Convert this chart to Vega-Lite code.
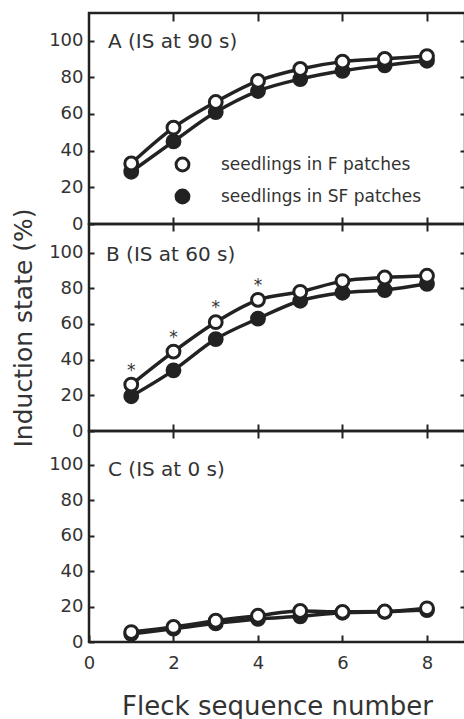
{
  "$schema": "https://vega.github.io/schema/vega-lite/v6.json",
  "background": "white",
  "padding": {"left": 10, "top": 10, "right": 0, "bottom": 0},
  "spacing": 0,
  "bounds": "flush",
  "config": {
    "font": "DejaVu Sans",
    "view": {"stroke": "#222", "strokeWidth": 2.5},
    "axis": {"grid": false, "domain": false, "labelFont": "DejaVu Sans", "labelFontSize": 18, "labelColor": "#333", "tickColor": "#222", "tickWidth": 2, "titleFont": "DejaVu Sans", "titleFontSize": 25, "titleFontWeight": "normal", "titleColor": "#333"},
    "title": {"font": "DejaVu Sans", "fontSize": 20, "fontWeight": "normal", "color": "#333", "anchor": "start", "frame": "group"}
  },
  "resolve": {"legend": {"fill": "independent"}},
  "datasets": {
    "induction": [
      {"panel": "A", "fleck": 1, "series": "seedlings in SF patches", "value": 28.5, "sig": ""},
      {"panel": "A", "fleck": 2, "series": "seedlings in SF patches", "value": 45, "sig": ""},
      {"panel": "A", "fleck": 3, "series": "seedlings in SF patches", "value": 61, "sig": ""},
      {"panel": "A", "fleck": 4, "series": "seedlings in SF patches", "value": 72.5, "sig": ""},
      {"panel": "A", "fleck": 5, "series": "seedlings in SF patches", "value": 79, "sig": ""},
      {"panel": "A", "fleck": 6, "series": "seedlings in SF patches", "value": 83.5, "sig": ""},
      {"panel": "A", "fleck": 7, "series": "seedlings in SF patches", "value": 86.5, "sig": ""},
      {"panel": "A", "fleck": 8, "series": "seedlings in SF patches", "value": 89, "sig": ""},
      {"panel": "A", "fleck": 1, "series": "seedlings in F patches", "value": 33, "sig": ""},
      {"panel": "A", "fleck": 2, "series": "seedlings in F patches", "value": 52.5, "sig": ""},
      {"panel": "A", "fleck": 3, "series": "seedlings in F patches", "value": 66.5, "sig": ""},
      {"panel": "A", "fleck": 4, "series": "seedlings in F patches", "value": 78, "sig": ""},
      {"panel": "A", "fleck": 5, "series": "seedlings in F patches", "value": 84.5, "sig": ""},
      {"panel": "A", "fleck": 6, "series": "seedlings in F patches", "value": 88.5, "sig": ""},
      {"panel": "A", "fleck": 7, "series": "seedlings in F patches", "value": 90, "sig": ""},
      {"panel": "A", "fleck": 8, "series": "seedlings in F patches", "value": 91.5, "sig": ""},
      {"panel": "B", "fleck": 1, "series": "seedlings in SF patches", "value": 19.5, "sig": ""},
      {"panel": "B", "fleck": 2, "series": "seedlings in SF patches", "value": 34, "sig": ""},
      {"panel": "B", "fleck": 3, "series": "seedlings in SF patches", "value": 51.5, "sig": ""},
      {"panel": "B", "fleck": 4, "series": "seedlings in SF patches", "value": 63, "sig": ""},
      {"panel": "B", "fleck": 5, "series": "seedlings in SF patches", "value": 73, "sig": ""},
      {"panel": "B", "fleck": 6, "series": "seedlings in SF patches", "value": 77.5, "sig": ""},
      {"panel": "B", "fleck": 7, "series": "seedlings in SF patches", "value": 79, "sig": ""},
      {"panel": "B", "fleck": 8, "series": "seedlings in SF patches", "value": 82.5, "sig": ""},
      {"panel": "B", "fleck": 1, "series": "seedlings in F patches", "value": 26, "sig": "*"},
      {"panel": "B", "fleck": 2, "series": "seedlings in F patches", "value": 44.5, "sig": "*"},
      {"panel": "B", "fleck": 3, "series": "seedlings in F patches", "value": 61, "sig": "*"},
      {"panel": "B", "fleck": 4, "series": "seedlings in F patches", "value": 73.5, "sig": "*"},
      {"panel": "B", "fleck": 5, "series": "seedlings in F patches", "value": 78, "sig": ""},
      {"panel": "B", "fleck": 6, "series": "seedlings in F patches", "value": 84, "sig": ""},
      {"panel": "B", "fleck": 7, "series": "seedlings in F patches", "value": 86, "sig": ""},
      {"panel": "B", "fleck": 8, "series": "seedlings in F patches", "value": 87, "sig": ""},
      {"panel": "C", "fleck": 1, "series": "seedlings in SF patches", "value": 4.5, "sig": ""},
      {"panel": "C", "fleck": 2, "series": "seedlings in SF patches", "value": 7.5, "sig": ""},
      {"panel": "C", "fleck": 3, "series": "seedlings in SF patches", "value": 10.5, "sig": ""},
      {"panel": "C", "fleck": 4, "series": "seedlings in SF patches", "value": 13, "sig": ""},
      {"panel": "C", "fleck": 5, "series": "seedlings in SF patches", "value": 14.5, "sig": ""},
      {"panel": "C", "fleck": 6, "series": "seedlings in SF patches", "value": 16.5, "sig": ""},
      {"panel": "C", "fleck": 7, "series": "seedlings in SF patches", "value": 17, "sig": ""},
      {"panel": "C", "fleck": 8, "series": "seedlings in SF patches", "value": 18, "sig": ""},
      {"panel": "C", "fleck": 1, "series": "seedlings in F patches", "value": 5.6, "sig": ""},
      {"panel": "C", "fleck": 2, "series": "seedlings in F patches", "value": 8.5, "sig": ""},
      {"panel": "C", "fleck": 3, "series": "seedlings in F patches", "value": 12, "sig": ""},
      {"panel": "C", "fleck": 4, "series": "seedlings in F patches", "value": 14.8, "sig": ""},
      {"panel": "C", "fleck": 5, "series": "seedlings in F patches", "value": 17.5, "sig": ""},
      {"panel": "C", "fleck": 6, "series": "seedlings in F patches", "value": 17, "sig": ""},
      {"panel": "C", "fleck": 7, "series": "seedlings in F patches", "value": 17.2, "sig": ""},
      {"panel": "C", "fleck": 8, "series": "seedlings in F patches", "value": 19, "sig": ""}
    ]
  },
  "vconcat": [
    {
      "width": 376, "height": 211,
      "data": {"name": "induction"},
      "transform": [{"filter": "datum.panel == 'A'"}],
      "title": {"text": "A (IS at 90 s)", "orient": "top", "offset": -56, "dx": 19, "baseline": "alphabetic"},
      "layer": [
        {
          "mark": {"type": "line", "interpolate": "monotone", "strokeWidth": 3.5, "color": "#222"},
          "encoding": {
            "x": {"field": "fleck", "type": "quantitative", "scale": {"domain": [0, 8.9], "nice": false, "zero": false}, "axis": {"orient": "bottom", "values": [2, 4, 6, 8], "labels": false, "tickSize": -7, "title": null}},
            "y": {"field": "value", "type": "quantitative", "scale": {"domain": [0, 115], "nice": false}, "axis": {"orient": "left", "values": [0, 20, 40, 60, 80, 100], "tickSize": -5, "labelPadding": 11, "title": null}},
            "detail": {"field": "series"}
          }
        },
        {
          "mark": {"type": "point", "shape": "circle", "filled": true, "size": 165, "stroke": "#222", "strokeWidth": 3, "opacity": 1},
          "encoding": {
            "x": {"field": "fleck", "type": "quantitative", "axis": {"orient": "top", "values": [2, 4, 6, 8], "labels": false, "tickSize": -8, "title": null}},
            "y": {"field": "value", "type": "quantitative", "axis": {"orient": "right", "values": [20, 40, 60, 80, 100], "labels": false, "tickSize": -5, "title": null}},
            "fill": {"field": "series", "type": "nominal", "scale": {"domain": ["seedlings in F patches", "seedlings in SF patches"], "range": ["white", "#222"]},
              "legend": {"orient": "none", "legendX": 85, "legendY": 143, "title": null, "padding": 0, "symbolType": "circle", "symbolSize": 165, "symbolStrokeColor": "#222", "symbolStrokeWidth": 3, "symbolOpacity": 1, "labelFont": "DejaVu Sans", "labelFontSize": 17, "labelColor": "#333", "labelOffset": 30, "labelLimit": 0, "rowPadding": 7}}
          }
        }
      ]
    },
    {
      "width": 376, "height": 207,
      "data": {"name": "induction"},
      "transform": [{"filter": "datum.panel == 'B'"}],
      "title": {"text": "B (IS at 60 s)", "orient": "top", "offset": -73, "dx": 17, "baseline": "alphabetic"},
      "layer": [
        {
          "mark": {"type": "line", "interpolate": "monotone", "strokeWidth": 3.5, "color": "#222"},
          "encoding": {
            "x": {"field": "fleck", "type": "quantitative", "scale": {"domain": [0, 8.9], "nice": false, "zero": false}, "axis": {"orient": "bottom", "values": [2, 4, 6, 8], "labels": false, "tickSize": -7, "title": null}},
            "y": {"field": "value", "type": "quantitative", "scale": {"domain": [0, 116], "nice": false}, "axis": {"orient": "left", "values": [0, 20, 40, 60, 80, 100], "tickSize": -5, "labelPadding": 11, "title": "Induction state (%)", "titlePadding": 12}},
            "detail": {"field": "series"}
          }
        },
        {
          "mark": {"type": "point", "shape": "circle", "filled": true, "size": 165, "stroke": "#222", "strokeWidth": 3, "opacity": 1},
          "encoding": {
            "x": {"field": "fleck", "type": "quantitative", "axis": {"orient": "top", "values": [2, 4, 6, 8], "labels": false, "tickSize": -7, "title": null}},
            "y": {"field": "value", "type": "quantitative", "axis": {"orient": "right", "values": [20, 40, 60, 80, 100], "labels": false, "tickSize": -5, "title": null}},
            "fill": {"field": "series", "type": "nominal", "scale": {"domain": ["seedlings in F patches", "seedlings in SF patches"], "range": ["white", "#222"]}, "legend": null}
          }
        },
        {
          "transform": [{"filter": "datum.sig == '*'"}],
          "mark": {"type": "text", "font": "DejaVu Sans", "fontSize": 17, "fill": "#333", "dy": -14, "baseline": "middle"},
          "encoding": {
            "x": {"field": "fleck", "type": "quantitative", "axis": null},
            "y": {"field": "value", "type": "quantitative", "axis": null},
            "text": {"field": "sig"}
          }
        }
      ]
    },
    {
      "width": 376, "height": 211,
      "data": {"name": "induction"},
      "transform": [{"filter": "datum.panel == 'C'"}],
      "title": {"text": "C (IS at 0 s)", "orient": "top", "offset": -66, "dx": 19, "baseline": "alphabetic"},
      "layer": [
        {
          "mark": {"type": "line", "interpolate": "monotone", "strokeWidth": 3.5, "color": "#222"},
          "encoding": {
            "x": {"field": "fleck", "type": "quantitative", "scale": {"domain": [0, 8.9], "nice": false, "zero": false}, "axis": {"orient": "bottom", "values": [0, 2, 4, 6, 8], "tickSize": -7, "labelPadding": 19, "title": "Fleck sequence number", "titleFontSize": 26, "titlePadding": 21, "labelFlush": false}},
            "y": {"field": "value", "type": "quantitative", "scale": {"domain": [0, 119], "nice": false}, "axis": {"orient": "left", "values": [0, 20, 40, 60, 80, 100], "tickSize": -5, "labelPadding": 11, "title": null}},
            "detail": {"field": "series"}
          }
        },
        {
          "mark": {"type": "point", "shape": "circle", "filled": true, "size": 165, "stroke": "#222", "strokeWidth": 3, "opacity": 1},
          "encoding": {
            "x": {"field": "fleck", "type": "quantitative", "axis": {"orient": "top", "values": [2, 4, 6, 8], "labels": false, "tickSize": -7, "title": null}},
            "y": {"field": "value", "type": "quantitative", "axis": {"orient": "right", "values": [20, 40, 60, 80, 100], "labels": false, "tickSize": -5, "title": null}},
            "fill": {"field": "series", "type": "nominal", "scale": {"domain": ["seedlings in F patches", "seedlings in SF patches"], "range": ["white", "#222"]}, "legend": null}
          }
        }
      ]
    }
  ]
}
